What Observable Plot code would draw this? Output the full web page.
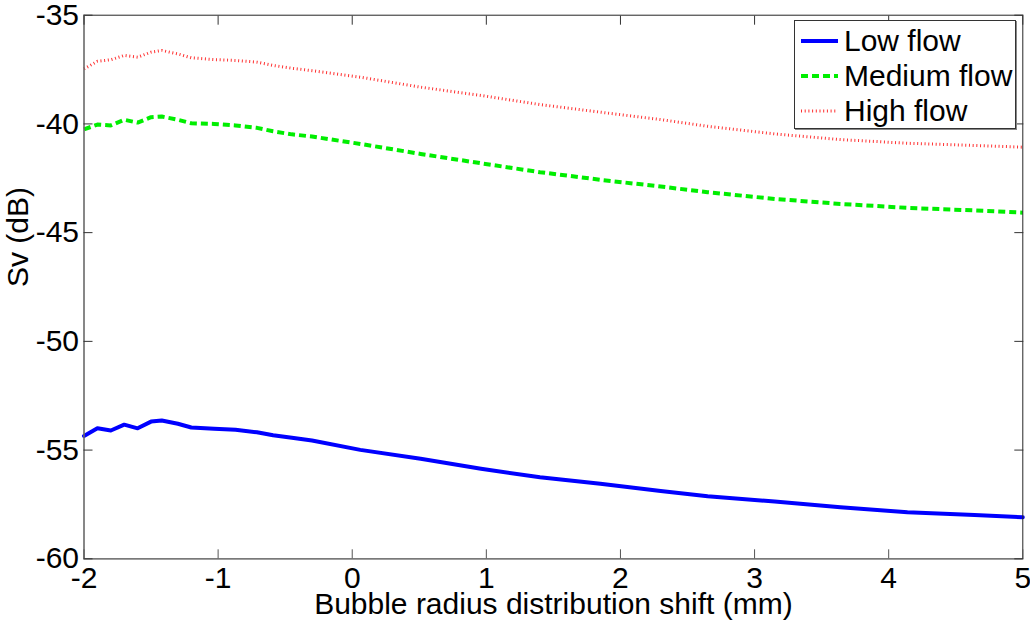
<!DOCTYPE html>
<html>
<head>
<meta charset="utf-8">
<script src="https://cdn.jsdelivr.net/npm/d3@7"></script>
<script src="https://cdn.jsdelivr.net/npm/@observablehq/plot@0.6"></script>
<style>
  html, body { margin: 0; padding: 0; background: #fff; }
  #wrap { position: relative; width: 1030px; height: 623px; font-family: "Liberation Sans", Arial, sans-serif; }
  #legend { position: absolute; left: 794px; top: 20px; width: 222px; height: 109px; border: 1px solid #333; background: #fff; box-shadow: 1px 1px 0 #888; box-sizing: border-box; }
  .row { position: absolute; left: 0; height: 34px; display: flex; align-items: center; }
  .row span { font-size: 30px; color: #000; margin-left: 5px; line-height: 1; }
</style>
</head>
<body>
<div id="wrap"></div>
<script>
const xs = [-2, -1.9, -1.8, -1.7, -1.6, -1.5, -1.42, -1.3, -1.2, -1.03, -0.87, -0.71, -0.59, -0.45, -0.3, 0.06, 0.51, 0.96, 1.4, 1.85, 2.3, 2.65, 3.15, 3.64, 4.14, 4.64, 5];
const lowFlow = [-54.35, -54.0, -54.1, -53.83, -54.0, -53.69, -53.64, -53.79, -53.96, -54.02, -54.07, -54.18, -54.32, -54.43, -54.56, -54.99, -55.40, -55.86, -56.25, -56.55, -56.88, -57.12, -57.37, -57.63, -57.86, -57.98, -58.09];
const mediumFlow = [-40.25, -40.03, -40.07, -39.81, -39.94, -39.69, -39.66, -39.81, -39.97, -40.0, -40.07, -40.18, -40.34, -40.48, -40.58, -40.92, -41.38, -41.81, -42.22, -42.57, -42.88, -43.14, -43.45, -43.68, -43.86, -43.98, -44.08];
const highFlow = [-37.47, -37.12, -37.05, -36.85, -36.93, -36.70, -36.62, -36.78, -36.96, -37.04, -37.08, -37.16, -37.31, -37.44, -37.55, -37.85, -38.31, -38.69, -39.11, -39.46, -39.80, -40.11, -40.46, -40.72, -40.89, -40.99, -41.07];
const seriesNames = ["Low flow", "Medium flow", "High flow"];
const xTicks = [-2, -1, 0, 1, 2, 3, 4, 5];
const yTicks = [-60, -55, -50, -45, -40, -35];
const xLabel = "Bubble radius distribution shift (mm)";
const yLabel = "Sv (dB)";

const styles = [
  {stroke: "#0000ff", strokeWidth: 4, dash: "none", cap: "round"},
  {stroke: "#00ee00", strokeWidth: 4, dash: "7 4", cap: "butt"},
  {stroke: "#ff3030", strokeWidth: 3, dash: "1 2.7", cap: "butt"}
];
const values = [lowFlow, mediumFlow, highFlow];
const table = values.map(v => xs.map((x, i) => ({x, y: v[i]})));
const fmt = d => String(d);

const chart = Plot.plot({
  width: 1030,
  height: 623,
  marginLeft: 83.5,
  marginRight: 7.7,
  marginTop: 14.7,
  marginBottom: 64.7,
  style: {fontFamily: "Liberation Sans, Arial, sans-serif", fontSize: "30px", color: "#000", background: "#fff"},
  x: {domain: [-2, 5]},
  y: {domain: [-60, -35]},
  marks: [
    ...table.map((d, i) => Plot.line(d, {x: "x", y: "y", stroke: styles[i].stroke, strokeWidth: styles[i].strokeWidth, strokeDasharray: styles[i].dash, strokeLinecap: styles[i].cap})),
    Plot.frame({stroke: "#262626", strokeWidth: 1}),
    Plot.ruleX([-2], {stroke: "#808080", strokeWidth: 1.2}),
    Plot.ruleY([-60], {stroke: "#808080", strokeWidth: 1.2}),
    Plot.axisX(xTicks, {anchor: "bottom", tickSize: -9, text: null, stroke: "#555", label: null}),
    Plot.axisX(xTicks, {anchor: "top", tickSize: -9, text: null, stroke: "#333", label: null}),
    Plot.axisY(yTicks, {anchor: "left", tickSize: -9, text: null, stroke: "#333", label: null}),
    Plot.axisY(yTicks, {anchor: "right", tickSize: -9, text: null, stroke: "#333", label: null}),
    Plot.axisX(xTicks, {anchor: "bottom", tickSize: 0, tickPadding: 8, label: null, tickFormat: fmt, fontSize: 30, fill: "#000"}),
    Plot.axisY(yTicks, {anchor: "left", tickSize: 0, tickPadding: 5, label: null, tickFormat: fmt, fontSize: 30, fill: "#000"}),
    Plot.text([xLabel], {frameAnchor: "bottom", dy: 55, text: d => d, fontSize: 30, fill: "#000"}),
    Plot.text([yLabel], {frameAnchor: "left", dx: -66, rotate: -90, text: d => d, fontSize: 30, fill: "#000"})
  ]
});
const wrap = document.getElementById("wrap");
wrap.appendChild(chart);

// legend
const legend = document.createElement("div");
legend.id = "legend";
const rowTops = [3, 38, 73];
seriesNames.forEach((name, i) => {
  const row = document.createElement("div");
  row.className = "row";
  row.style.top = rowTops[i] + "px";
  const dash = styles[i].dash === "none" ? "" : `stroke-dasharray="${styles[i].dash}"`;
  row.innerHTML = `<svg width="44" height="34" style="display:block"><line x1="6" x2="43" y1="17" y2="17" stroke="${styles[i].stroke}" stroke-width="${styles[i].strokeWidth}" stroke-linecap="butt" ${dash}/></svg><span>${name}</span>`;
  legend.appendChild(row);
});
wrap.appendChild(legend);
</script>
</body>
</html>
